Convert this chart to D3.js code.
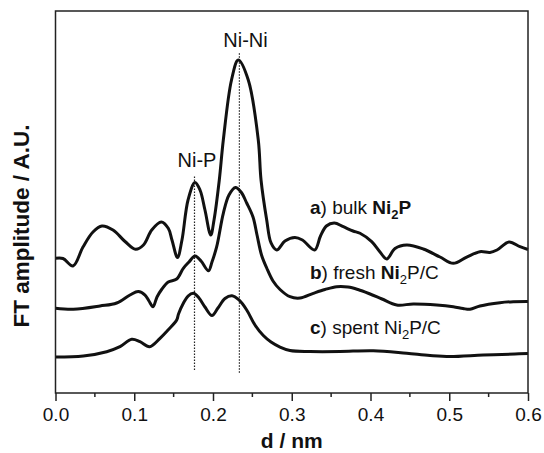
<!DOCTYPE html>
<html><head><meta charset="utf-8">
<script src="https://cdn.jsdelivr.net/npm/d3@7"></script>
<style>body{margin:0;background:#fff}svg{display:block}text{font-family:"Liberation Sans",Arial,sans-serif;fill:#111}</style>
</head><body><svg id="c" width="544" height="453"></svg>
<script>
// d (nm) positions and FT amplitudes (arbitrary units)
const bulkD = [0,0.0095,0.0222,0.0349,0.0476,0.059,0.073,0.0883,0.1016,0.1117,0.1222,0.1343,0.1432,0.1479,0.1549,0.1606,0.1683,0.1771,0.1835,0.1898,0.1971,0.2013,0.208,0.2131,0.2235,0.2321,0.2448,0.2575,0.261,0.2682,0.2737,0.2809,0.2914,0.3040,0.3135,0.3290,0.3365,0.3440,0.3540,0.3655,0.3778,0.3867,0.4015,0.4121,0.4206,0.4311,0.446,0.467,0.4883,0.5051,0.5222,0.539,0.5517,0.5606,0.5759,0.5898,0.6];
const bulkA = [3.526,3.521,3.325,3.822,4.215,4.372,4.267,3.966,3.762,3.874,4.267,4.476,4.312,4.005,3.547,4.005,5.052,5.51,5.314,4.791,4.136,4.529,5.576,6.623,8.194,8.717,8.194,6.623,5.576,4.529,3.927,3.743,3.979,4.071,4.005,3.743,4.11,4.372,4.45,4.353,4.241,4.181,3.961,3.691,3.508,3.783,3.874,3.77,3.56,3.395,3.56,3.699,3.678,3.743,3.953,3.83,3.757];
const freshD = [0,0.0226,0.0565,0.0777,0.0946,0.1051,0.1137,0.1187,0.1238,0.1289,0.1352,0.1432,0.1539,0.1623,0.1695,0.1771,0.1848,0.1943,0.1987,0.2047,0.2131,0.2203,0.2286,0.2356,0.2428,0.2508,0.2559,0.2616,0.2682,0.2762,0.2851,0.2978,0.3105,0.3274,0.3422,0.3571,0.3714,0.3841,0.3994,0.4146,0.4333,0.4543,0.4841,0.5051,0.5175,0.5263,0.539,0.5644,0.5813,0.6];
const freshA = [2.217,2.191,2.277,2.356,2.565,2.657,2.565,2.408,2.259,2.513,2.723,2.906,2.984,3.264,3.429,3.586,3.455,3.202,3.429,3.83,4.704,5.183,5.38,5.262,4.974,4.607,4.136,3.613,3.272,2.932,2.709,2.521,2.487,2.61,2.709,2.783,2.775,2.709,2.592,2.461,2.304,2.33,2.304,2.259,2.212,2.191,2.277,2.364,2.39,2.395];
const spentD = [0,0.0353,0.065,0.0819,0.0968,0.1073,0.1194,0.1327,0.1429,0.1539,0.1562,0.1625,0.1683,0.1752,0.1822,0.1898,0.1987,0.2063,0.2152,0.2241,0.233,0.2428,0.2533,0.2639,0.2737,0.2851,0.2978,0.3232,0.3613,0.4036,0.446,0.4756,0.501,0.5432,0.5835,0.6];
const spentA = [0.942,0.969,1.081,1.212,1.406,1.343,1.212,1.432,1.649,1.911,2.068,2.356,2.539,2.61,2.487,2.251,2.029,2.225,2.474,2.547,2.435,2.173,1.78,1.505,1.335,1.204,1.113,1.086,1.086,1.107,1.039,0.982,0.955,0.995,1.021,1.034];
const xTicks = [0,0.1,0.2,0.3,0.4,0.5,0.6];
const xMinor = [0.05,0.15,0.25,0.35,0.45,0.55];
const markerD = [0.1765,0.2335];
const markerTop = [5.68,8.90];
const markerBottom = [0.60,0.53];
const markerNames = ["Ni-P","Ni-Ni"];

const W=544,H=453, m={l:55.5,t:11,r:16,b:60};
const svg=d3.select("#c");
const x=d3.scaleLinear().domain([0,0.6]).range([m.l,W-m.r]);
const y=d3.scaleLinear().domain([0,10]).range([393,11]);

// dotted marker lines
svg.selectAll("line.mk").data(markerD).join("line")
  .attr("x1",d=>x(d)).attr("x2",d=>x(d))
  .attr("y1",(d,i)=>y(markerBottom[i])).attr("y2",(d,i)=>y(markerTop[i]))
  .attr("stroke","#222").attr("stroke-width",1.2).attr("stroke-dasharray","1.5,1.5");

const line=d3.line().x(d=>x(d[0])).y(d=>y(d[1])).curve(d3.curveCatmullRom.alpha(0.5));
[[bulkD,bulkA],[freshD,freshA],[spentD,spentA]].forEach(([D,A])=>{
  svg.append("path").datum(D.map((d,i)=>[d,A[i]])).attr("d",line)
    .attr("fill","none").attr("stroke","#111").attr("stroke-width",3).attr("stroke-linejoin","round");
});

// frame
svg.append("rect").attr("x",x(0)).attr("y",y(10)).attr("width",x(0.6)-x(0)).attr("height",y(0)-y(10))
  .attr("fill","none").attr("stroke","#222").attr("stroke-width",1.5);

// x axis
const ax=svg.append("g").attr("transform",`translate(0,${y(0)})`)
  .call(d3.axisBottom(x).tickValues(xTicks).tickFormat(d3.format(".1f")).tickSize(8).tickSizeOuter(0).tickPadding(7));
ax.select(".domain").remove();
ax.selectAll("line").attr("stroke","#222").attr("stroke-width",1.5);
ax.selectAll("text").style("font-size","19px").attr("fill","#111");
svg.append("g").selectAll("line").data(xMinor).join("line")
  .attr("x1",d=>x(d)).attr("x2",d=>x(d)).attr("y1",y(0)).attr("y2",y(0)+4)
  .attr("stroke","#222").attr("stroke-width",1.5);

// axis titles
svg.append("text").attr("x",(x(0)+x(0.6))/2).attr("y",447.5).attr("text-anchor","middle")
  .style("font-size","21px").style("font-weight","bold").text("d / nm");
svg.append("text").attr("transform","translate(29,226) rotate(-90)").attr("text-anchor","middle")
  .style("font-size","22.5px").style("font-weight","bold").text("FT amplitude / A.U.");

// marker labels
svg.append("text").attr("x",x(0.1797)).attr("y",167).attr("text-anchor","middle").style("font-size","20px").text(markerNames[0]);
svg.append("text").attr("x",x(0.2413)).attr("y",46.5).attr("text-anchor","middle").style("font-size","20px").text(markerNames[1]);

// curve labels
function label(yb, parts){
  const t=svg.append("text").attr("x",310).attr("y",yb).style("font-size","19px");
  parts.forEach(p=>{
    const s=t.append("tspan").text(p[0]);
    if(p[1]) s.style("font-weight","bold");
    if(p[2]) s.style("font-size","13px").attr("dy",5);
    if(p[3]) s.attr("dy",-5);
  });
}
label(213.5,[["a",1],[") bulk "],["Ni",1],["2",1,1],["P",1,0,1]]);
label(278.5,[["b",1],[") fresh "],["Ni",1],["2",0,1],["P/C",0,0,1]]);
label(333.5,[["c",1],[") spent Ni"],["2",0,1],["P/C",0,0,1]]);
</script></body></html>
